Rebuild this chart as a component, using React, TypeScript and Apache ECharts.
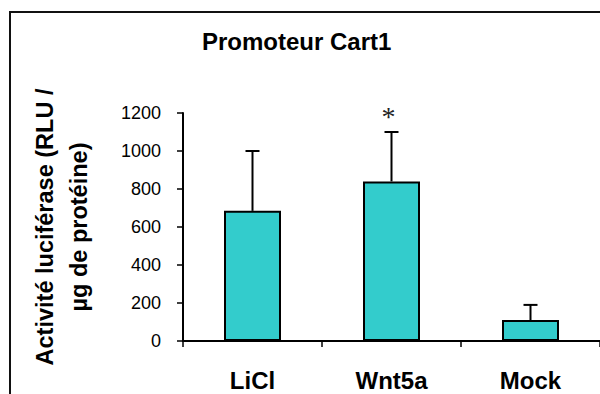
import React, { useEffect, useRef } from "react";
import * as echarts from "echarts";

// Luciferase activity per condition (mean and upper SD)
const categories = ["LiCl", "Wnt5a", "Mock"];
const means = [685, 840, 110];
const errors = [315, 260, 80];
const significance = ["", "*", ""];

const FONT = "'Liberation Sans', Arial, Helvetica, sans-serif";

export default function App() {
  const ref = useRef<HTMLDivElement>(null);

  useEffect(() => {
    const chart = echarts.init(ref.current!, null, { renderer: "svg" });

    chart.setOption({
      animation: false,
      backgroundColor: "#ffffff",
      textStyle: { fontFamily: FONT, color: "#000" },
      graphic: [
        {
          type: "rect",
          silent: true,
          shape: { x: 10, y: 12, width: 640, height: 440 },
          style: { fill: "none", stroke: "#111", lineWidth: 2 },
        },
        {
          type: "text",
          x: 202,
          y: 41,
          style: {
            text: "Promoteur Cart1",
            fontFamily: FONT,
            fontWeight: "bold",
            fontSize: 24,
            fill: "#000",
            align: "left",
            verticalAlign: "middle",
          },
        },
      ],
      grid: { left: 183, top: 113, width: 423, height: 228 },
      xAxis: {
        type: "category",
        data: categories,
        axisLine: { show: true, lineStyle: { color: "#000", width: 2 } },
        axisTick: { show: true, length: 6, lineStyle: { color: "#000", width: 1.5 } },
        axisLabel: {
          color: "#000",
          fontFamily: FONT,
          fontWeight: "bold",
          fontSize: 24,
          margin: 27,
        },
        splitLine: { show: false },
      },
      yAxis: {
        type: "value",
        min: 0,
        max: 1200,
        interval: 200,
        name: "Activité luciférase (RLU /\nµg de protéine)",
        nameLocation: "middle",
        nameGap: 87,
        nameRotate: 90,
        nameTextStyle: {
          color: "#000",
          fontFamily: FONT,
          fontWeight: "bold",
          fontSize: 23.5,
          lineHeight: 34,
          align: "center",
        },
        axisLine: { show: true, lineStyle: { color: "#000", width: 2 } },
        axisTick: { show: true, length: 6, lineStyle: { color: "#000", width: 1.5 } },
        axisLabel: {
          color: "#000",
          fontFamily: FONT,
          fontSize: 18,
          margin: 22,
          formatter: (v: number) => String(v),
        },
        splitLine: { show: false },
      },
      series: [
        {
          type: "bar",
          data: means,
          barWidth: 57,
          itemStyle: { color: "#33CCCC", borderColor: "#000", borderWidth: 2 },
        },
        {
          type: "custom",
          data: categories.map((_, i) => [i, means[i], errors[i]]),
          z: 5,
          renderItem: (params: any, api: any) => {
            const i = params.dataIndex;
            const base = api.coord([api.value(0), api.value(1)]);
            const top = api.coord([api.value(0), api.value(1) + api.value(2)]);
            const half = 7;
            const style = { stroke: "#000", lineWidth: 2 };
            const children: any[] = [
              { type: "line", shape: { x1: base[0], y1: base[1], x2: top[0], y2: top[1] }, style },
              { type: "line", shape: { x1: top[0] - half, y1: top[1], x2: top[0] + half, y2: top[1] }, style },
            ];
            if (significance[i]) {
              children.push({
                type: "text",
                x: top[0] - 3,
                y: top[1] - 16,
                style: {
                  text: significance[i],
                  fontFamily: "'Liberation Serif', 'Times New Roman', serif",
                  fontSize: 28,
                  fill: "#222",
                  align: "center",
                  verticalAlign: "middle",
                },
              });
            }
            return { type: "group", children };
          },
        },
      ],
    });

    return () => chart.dispose();
  }, []);

  return (
    <div
      ref={ref}
      style={{ position: "fixed", left: 0, top: 0, width: 600, height: 394 }}
    />
  );
}
